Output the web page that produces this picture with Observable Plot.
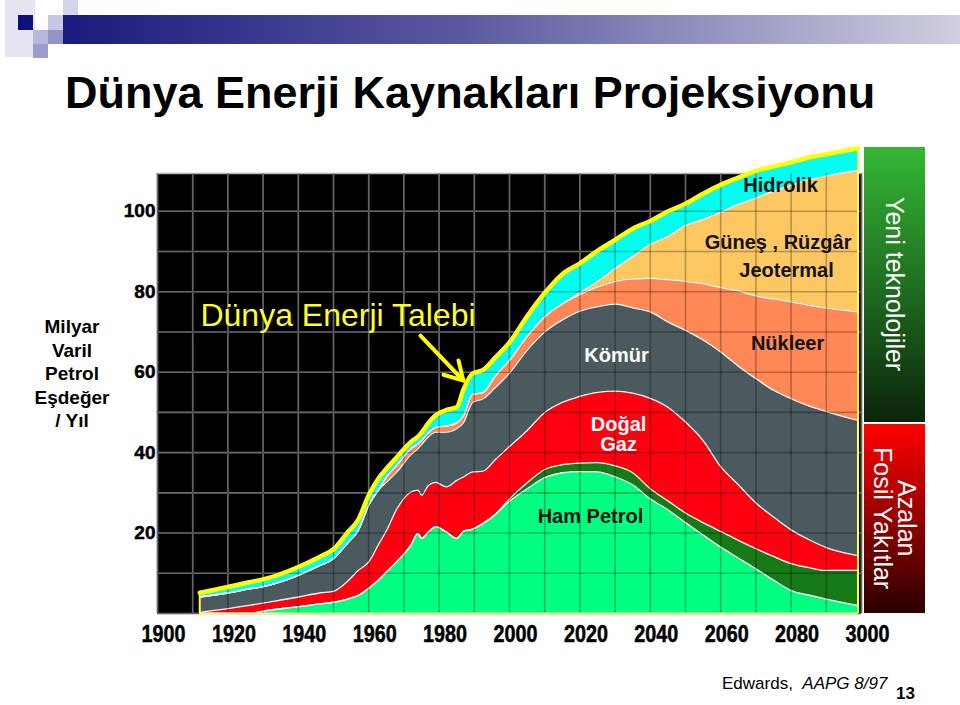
<!DOCTYPE html>
<html><head><meta charset="utf-8">
<script src="https://cdn.jsdelivr.net/npm/d3@7"></script>
<script src="https://cdn.jsdelivr.net/npm/@observablehq/plot@0.6"></script>
<style>
body{margin:0;background:#fff;font-family:"Liberation Sans",Arial,sans-serif;}
#page{position:relative;width:960px;height:705px;overflow:hidden;background:#fff;}
.sq{position:absolute;}
#title{position:absolute;left:65px;top:70px;font-size:45px;line-height:45px;font-weight:bold;color:#000;white-space:nowrap;}
#ylab{position:absolute;left:22px;top:315px;width:100px;text-align:center;font-size:19px;line-height:23.5px;font-weight:bold;color:#000;}
#chart{position:absolute;left:0;top:130px;}
.bar{position:absolute;left:864px;width:61px;display:flex;align-items:center;justify-content:center;color:#fff;}
.vt{writing-mode:vertical-rl;font-size:25px;line-height:24px;text-align:center;white-space:nowrap;}
#foot{position:absolute;left:722px;top:674px;font-size:17px;color:#000;white-space:nowrap;}
#pg{position:absolute;left:896px;top:684px;font-size:17px;line-height:19px;font-weight:bold;color:#000;}
</style></head>
<body><div id="page">
<div class="sq" style="left:5px;top:0;width:30px;height:57px;background:#e6e6f3"></div>
<div class="sq" style="left:18px;top:15px;width:15px;height:15px;background:#10107a"></div>
<div class="sq" style="left:33px;top:30px;width:15px;height:14px;background:#b8b8dd"></div>
<div class="sq" style="left:33px;top:44px;width:15px;height:14px;background:#9c9cce"></div>
<div class="sq" style="left:48px;top:15px;width:15px;height:15px;background:#c8c8e6"></div>
<div class="sq" style="left:48px;top:30px;width:15px;height:14px;background:#9494c9"></div>
<div class="sq" style="left:63px;top:0;width:15px;height:15px;background:#d4d4ec"></div>
<div class="sq" style="left:63px;top:15px;width:897px;height:29px;background:linear-gradient(to right,#1a1a7e,#5a5aa0 45%,#cfcfdf)"></div>
<div id="title">Dünya Enerji Kaynakları Projeksiyonu</div>
<div id="ylab">Milyar<br>Varil<br>Petrol<br>Eşdeğer<br>/ Yıl</div>
<div id="chart"></div>
<div class="bar" style="top:147px;height:275px;background:linear-gradient(to bottom,#34b834,#0b240b)"><div class="vt">Yeni teknolojiler</div></div>
<div class="bar" style="top:424px;height:189px;background:linear-gradient(to bottom,#ff0000,#2a0000)"><div class="vt">Azalan<br>Fosil Yakıtlar</div></div>
<div id="foot">Edwards,&nbsp;&nbsp;<i>AAPG 8/97</i></div>
<div id="pg">13</div>
</div>
<script>
// ---- data (billion barrels of oil equivalent per year), layer thicknesses ----
const years = [1912,1920,1926,1930,1940,1946,1950,1954,1957,1960,1963,1965,1968,1972,1974,1975,1977,1979,1982,1985,1987,1989.5,1992.5,1996,2000,2005,2010,2015,2020,2025,2030,2035,2040,2045,2050,2055,2060,2065,2070,2075,2080,2085,2090,2099];
const seriesNames = ["Ham Petrol","Gaz Sıvıları","Doğal Gaz","Kömür","Nükleer","Güneş, Rüzgâr, Jeotermal","Hidrolik"];
const hamPetrol   = [0,0,0,0.6,1.7,2.4,2.8,3.6,4.5,6.3,8.5,10.3,12.9,17.0,19.9,18.7,20.3,21.6,20.3,18.7,20.5,21.0,22.4,24.7,27.9,31.0,33.8,35.0,35.3,35.2,34.0,32.0,28.5,25.8,22.6,19.5,16.5,13.8,11.1,8.3,5.7,4.6,3.6,2.0];
const gazSivilari = [0,0,0,0,0,0,0,0,0,0,0,0,0,0,0,0,0,0,0,0,0,0,0,0,0.6,1.5,2.0,2.0,2.1,2.3,2.7,3.0,2.5,2.2,2.4,3.1,3.9,4.4,5.0,5.9,6.7,6.8,7.1,8.7];
const dogalGaz    = [0.3,1.2,2.0,2.0,2.4,2.7,2.7,4.4,6.2,6.5,9.0,10.2,13.1,13.2,10.8,10.7,11.6,11.0,11.2,14.4,13.5,14.2,13.0,13.6,13.0,13.0,14.2,15.5,16.6,17.5,18.6,19.8,22.5,23.3,22.6,20.4,16.1,13.8,11.4,9.8,8.4,7.0,5.7,3.7];
const komur       = [3.8,3.9,4.1,4.1,5.4,6.8,8.1,9.5,9.9,14.1,13.5,12.1,9.2,9.3,10.3,12.6,12.1,12.5,13.6,12.9,13.6,17.3,18.0,17.9,18.3,20.0,20.0,20.5,21.2,21.3,21.6,21.2,21.5,21.2,22.8,25.0,28.5,29.5,30.9,31.5,32.6,33.2,33.8,33.6];
const nukleer     = [0,0,0,0,0,0,0,0,0,0,0,1.3,1.7,1.5,1.2,1.0,1.0,1.2,1.5,1.4,1.7,2.0,1.6,2.9,3.2,3.4,3.8,4.0,4.1,4.9,5.7,7.2,8.3,10.5,12.2,14.0,16.0,18.7,20.6,22.7,24.1,25.1,25.8,27.0];
const gunes       = [0,0,0,0,0,0,0,0,0,0,0,0,0,0,0,0,0,0,0,0,0,0,0,0,0,0,0,0,0.5,1.4,3.2,5.6,8.5,10.8,13.9,16.0,18.8,21.5,24.3,26.8,29.0,31.1,32.8,35.2];
const hidrolik    = [0.7,1.1,1.3,1.4,1.7,1.8,2.0,2.3,2.3,2.1,2.5,1.7,1.6,1.3,1.4,1.6,2.0,2.6,3.6,3.5,6.2,4.8,5.2,4.2,4.0,4.6,5.5,7.0,6.9,7.2,6.7,6.5,5.4,5.8,5.0,6.0,6.4,6.3,6.4,5.8,5.3,5.2,5.0,5.1];
const xTickYears  = [1900,1920,1940,1960,1980,2000,2020,2040,2060,2080,2100];
const xTickLabels = ["1900","1920","1940","1960","1980","2000","2020","2040","2060","2080","3000"];
const yTicks      = [20,40,60,80,100];
const seriesColors = ["#00ff80","#167a16","#ff0010","#4a5a5e","#ff8856","#fdc862","#00ffee"];

// ---- annotation placement (data coordinates) ----
const seriesLabels = [
  {text:"Hidrolik", x:2077, y:106.4, color:"#111"},
  {text:"Güneş , Rüzgâr", x:2076.3, y:92.2, color:"#111"},
  {text:"Jeotermal", x:2078.7, y:85.3, color:"#111"},
  {text:"Nükleer", x:2079, y:67.1, color:"#111"},
  {text:"Kömür", x:2030.4, y:64.1, color:"#fff"},
  {text:"Doğal", x:2031, y:47, color:"#fff"},
  {text:"Gaz", x:2031, y:42, color:"#fff"},
  {text:"Ham Petrol", x:2023, y:24.1, color:"#111"}
];
const demandLabel = [{text:"Dünya Enerji Talebi", x:1912.2, y:74.1}];
const demandArrow = [{x1:1974.7, y1:69.1, x2:1986.9, y2:57.9}];

const seriesValues = [hamPetrol,gazSivilari,dogalGaz,komur,nukleer,gunes,hidrolik];
const long = seriesNames.flatMap((s,k) => years.map((yr,i) => ({year:yr, series:s, value:seriesValues[k][i]})));
const totals = years.map((yr,i) => ({year:yr, total:d3.sum(seriesValues, v => v[i])}));
const ends = [totals[0], totals[totals.length-1]];

const gridStyle = {stroke:"#8c8c8c", strokeOpacity:1, strokeWidth:1.6};
const plot = Plot.plot({
  width:960, height:530,
  marginLeft:157, marginRight:99, marginTop:43, marginBottom:47,
  x:{domain:[1900,2100]},
  y:{domain:[0,109.4]},
  color:{domain:seriesNames, range:seriesColors},
  style:{fontFamily:"Liberation Sans, Arial, sans-serif", background:"transparent", overflow:"visible"},
  marks:[
    Plot.frame({fill:"black"}),
    Plot.gridX({ticks:20, ...gridStyle}),
    Plot.gridY({ticks:11, ...gridStyle}),
    Plot.frame({anchor:"top", stroke:"#b5b5b5", strokeWidth:1.5}),
    Plot.areaY(long, {x:"year", y:"value", z:"series", fill:"series", order:seriesNames, curve:"monotone-x"}),
    Plot.lineY(long, Plot.stackY2({x:"year", y:"value", z:"series", order:seriesNames, filter:d => d.series !== "Hidrolik", stroke:"white", strokeWidth:1.3, curve:"monotone-x"})),
    Plot.gridX({ticks:20, stroke:"#000", strokeOpacity:0.28, strokeWidth:1.6}),
    Plot.gridY({ticks:11, stroke:"#000", strokeOpacity:0.28, strokeWidth:1.6}),
    Plot.ruleY([0], {x1:years[0], x2:years[years.length-1], stroke:"#ffff99", strokeWidth:2}),
    Plot.ruleX(ends, {x:"year", y1:0, y2:"total", stroke:"#ffff55", strokeWidth:2}),
    Plot.lineY(totals, {x:"year", y:"total", stroke:"#ffff00", strokeWidth:4.5, dy:-1.5, curve:"monotone-x"}),
    Plot.axisY({ticks:yTicks, tickSize:0, tickPadding:2, fontSize:19, fontWeight:"bold", fill:"#000", label:null}),
    Plot.axisX({ticks:xTickYears, tickFormat:d => xTickLabels[xTickYears.indexOf(d)], tickSize:0, tickPadding:12, dx:6, fontSize:23, fontWeight:"bold", fill:"#000", label:null}),
    Plot.text(seriesLabels, {x:"x", y:"y", text:"text", fill:"color", fontSize:20, fontWeight:"bold"}),
    Plot.text(demandLabel, {x:"x", y:"y", text:"text", fill:"#ffff20", fontSize:32, textAnchor:"start"}),
    Plot.arrow(demandArrow, {x1:"x1", y1:"y1", x2:"x2", y2:"y2", stroke:"#ffff00", strokeWidth:4, headLength:14})
  ]
});
document.getElementById("chart").appendChild(plot);
plot.querySelectorAll('g[aria-label="x-axis tick label"] text').forEach(t => {
  t.setAttribute("textLength", "44");
  t.setAttribute("lengthAdjust", "spacingAndGlyphs");
  t.style.stroke = "#000"; t.style.strokeWidth = "0.5px";
});
plot.querySelectorAll('g[aria-label="y-axis tick label"] text').forEach(t => {
  t.style.stroke = "#000"; t.style.strokeWidth = "0.5px";
});
</script>
</body></html>
